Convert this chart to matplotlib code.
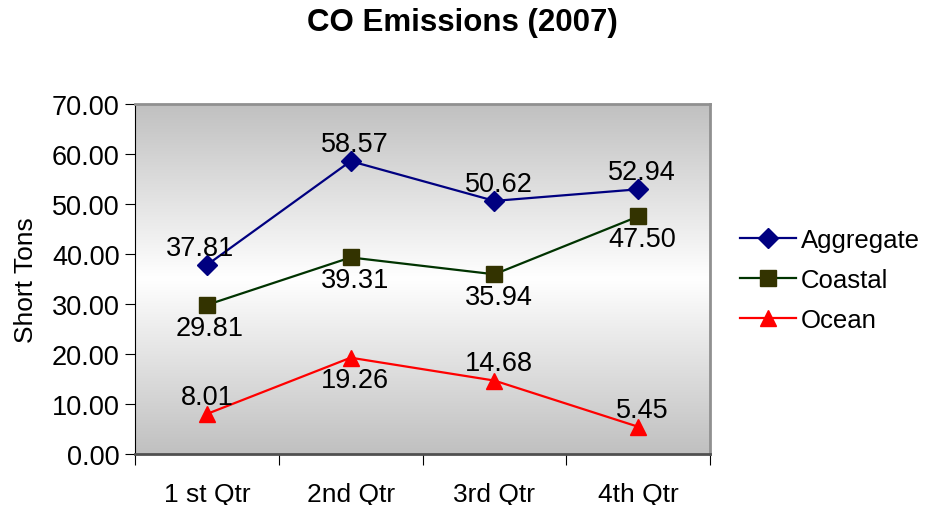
import numpy as np
import matplotlib
matplotlib.use("Agg")
import matplotlib.pyplot as plt
from matplotlib.colors import LinearSegmentedColormap

plt.rcParams['font.family'] = ['Liberation Sans', 'DejaVu Sans']

quarters = ["1 st Qtr", "2nd Qtr", "3rd Qtr", "4th Qtr"]
aggregate = [37.81, 58.57, 50.62, 52.94]
coastal = [29.81, 39.31, 35.94, 47.50]
ocean = [8.01, 19.26, 14.68, 5.45]

# label placement per point: +1 above, -1 below
agg_pos = [1, 1, 1, 1]
coast_pos = [-1, -1, -1, -1]
ocean_pos = [1, -1, 1, 1]
# small horizontal nudges for the labels (points)
agg_dx = [-5, 3, 3, 3]
coast_dx = [2, 3, 3, 3]
ocean_dx = [0, 3, 3, 3]

fig = plt.figure(figsize=(9.25, 5.06), dpi=100)
ax = fig.add_axes([0.146, 0.1008, 0.6216, 0.6917])

# gray-white-gray vertical gradient behind the plot
grad = LinearSegmentedColormap.from_list("g", ["#c0c0c0", "#ffffff", "#c0c0c0"])
ax.imshow(np.linspace(0, 1, 256).reshape(-1, 1), cmap=grad, aspect="auto",
          extent=[0, 1, 0, 1], transform=ax.transAxes, zorder=0)

x = np.arange(len(quarters))
ax.plot(x, aggregate, color="#000080", lw=1.6, marker="D", ms=10,
        mfc="#000080", mec="#000080", label="Aggregate", zorder=3)
ax.plot(x, coastal, color="#003300", lw=1.6, marker="s", ms=11,
        mfc="#333300", mec="#333300", label="Coastal", zorder=3)
ax.plot(x, ocean, color="#ff0000", lw=1.6, marker="^", ms=12,
        mfc="#ff0000", mec="#ff0000", label="Ocean", zorder=3)

for series, pos, dxs in [(aggregate, agg_pos, agg_dx), (coastal, coast_pos, coast_dx),
                         (ocean, ocean_pos, ocean_dx)]:
    for xi, v, p, dx in zip(x, series, pos, dxs):
        off = 3 if p > 0 else -7
        ax.annotate(f"{v:.2f}", (xi, v), xytext=(dx, off), textcoords="offset points",
                    ha="center", va="bottom" if p > 0 else "top", fontsize=19.5, zorder=4)

ax.set_xlim(-0.5, 3.5)
ax.set_ylim(0, 70)
ax.set_yticks(np.arange(0, 71, 10))
ax.set_yticklabels([f"{v:.2f}" for v in np.arange(0, 71, 10)])
ax.set_xticks(np.arange(-0.5, 4, 1))
ax.set_xticklabels([])
ax.set_xticks(x, minor=True)
ax.set_xticklabels(quarters, minor=True)
ax.tick_params(axis="x", which="minor", length=0, pad=20, labelsize=19)
ax.tick_params(axis="x", which="major", length=8, color="black")
ax.tick_params(axis="y", length=7, labelsize=19.5, pad=4)

for side in ["top", "right"]:
    ax.spines[side].set_color("#909090")
    ax.spines[side].set_linewidth(2)
ax.spines["bottom"].set_color("#505050")
ax.spines["bottom"].set_linewidth(2)
ax.spines["left"].set_color("black")

ax.set_ylabel("Short Tons", fontsize=19, labelpad=10)
fig.text(0.5, 0.955, "CO Emissions (2007)", ha="center", va="center",
         fontsize=22.5, fontweight="bold")

ax.legend(loc="center left", bbox_to_anchor=(1.035, 0.497), frameon=False,
          fontsize=18.5, handlelength=2.15, handletextpad=0.2, labelspacing=0.62,
          borderpad=0.4, borderaxespad=0)

fig.savefig("out.png", dpi=100)
